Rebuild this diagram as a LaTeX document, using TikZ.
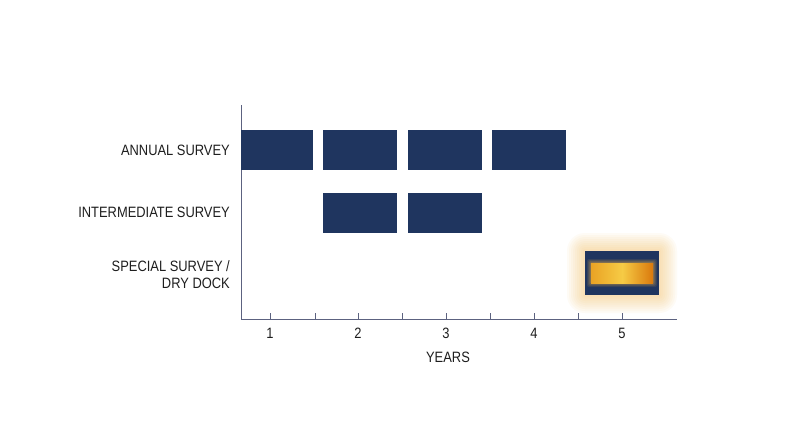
\documentclass[tikz,border=0pt]{standalone}
\usepackage{fontspec}
\setmainfont[FakeStretch=0.86]{Liberation Sans}
\usetikzlibrary{positioning}
\definecolor{navy}{HTML}{1F355F}
\definecolor{axisc}{HTML}{5C6280}
\definecolor{txt}{HTML}{1E1E1E}
\definecolor{glowc}{HTML}{F9B848}
\definecolor{goldL}{HTML}{E9A325}
\definecolor{goldM}{HTML}{F6CB45}
\definecolor{goldR}{HTML}{D9780C}
\tikzset{
  bar/.style={fill=navy, draw=none, inner sep=0pt, minimum height=40pt, anchor=north west},
  lab/.style={font=\fontsize{15}{17}\selectfont, text=txt, inner sep=0pt},
  rowlab/.style={lab, anchor=east, align=right},
  axisline/.style={draw=axisc, line width=1pt},
}
\begin{document}
\begin{tikzpicture}[x=1pt,y=-1pt]
\useasboundingbox (0,0) rectangle (800,447);
\fill[white] (0,0) rectangle (800,447);
% axes
\coordinate (top) at (241,105);
\coordinate (origin) at (241,319);
\coordinate (xend) at (677,319);
\draw[axisline] (top) -- (origin) -- (xend);
\foreach \x in {270,315,358,402,446,490,534,578,622}
  \draw[axisline] (\x,319) -- (\x,313);
% year labels
\foreach \x/\n in {270/1,358/2,446/3,534/4,622/5}
  \node[lab] (y\n) at (\x,333) {\n};
\node[lab] (years) at (448,357) {YEARS};
% row labels
\node[rowlab] (annual) at (230,150) {ANNUAL SURVEY};
\node[rowlab] (inter) at (230,212) {INTERMEDIATE SURVEY};
\node[rowlab] (special) at (230,275) {SPECIAL SURVEY /\\[0pt]DRY DOCK};
% annual bars
\node[bar, minimum width=72pt] (a1) at (241,130) {};
\node[bar, minimum width=74pt] (a2) at (323,130) {};
\node[bar, minimum width=74pt] (a3) at (408,130) {};
\node[bar, minimum width=74pt] (a4) at (492,130) {};
% intermediate bars
\node[bar, minimum width=74pt] (i2) at (323,193) {};
\node[bar, minimum width=74pt] (i3) at (408,193) {};
% glow
\foreach \r in {18,16,...,2}
  \fill[glowc, opacity=0.05, rounded corners=\r pt] (585-\r,251-\r) rectangle (659+\r,295+\r);
% special survey box
\node[bar, minimum width=74pt, minimum height=44pt] (s5) at (585,251) {};
\foreach \r/\o in {4/0.1,3/0.12,2/0.14,1/0.18}
  \fill[glowc, opacity=\o, rounded corners=2pt] (591-\r,263-\r) rectangle (653+\r,283+\r);
\node[inner sep=0pt, minimum width=62pt, minimum height=20pt, anchor=north west,
      left color=goldL, right color=goldR, middle color=goldM] (s5in) at (591,263) {};
\end{tikzpicture}
\end{document}
